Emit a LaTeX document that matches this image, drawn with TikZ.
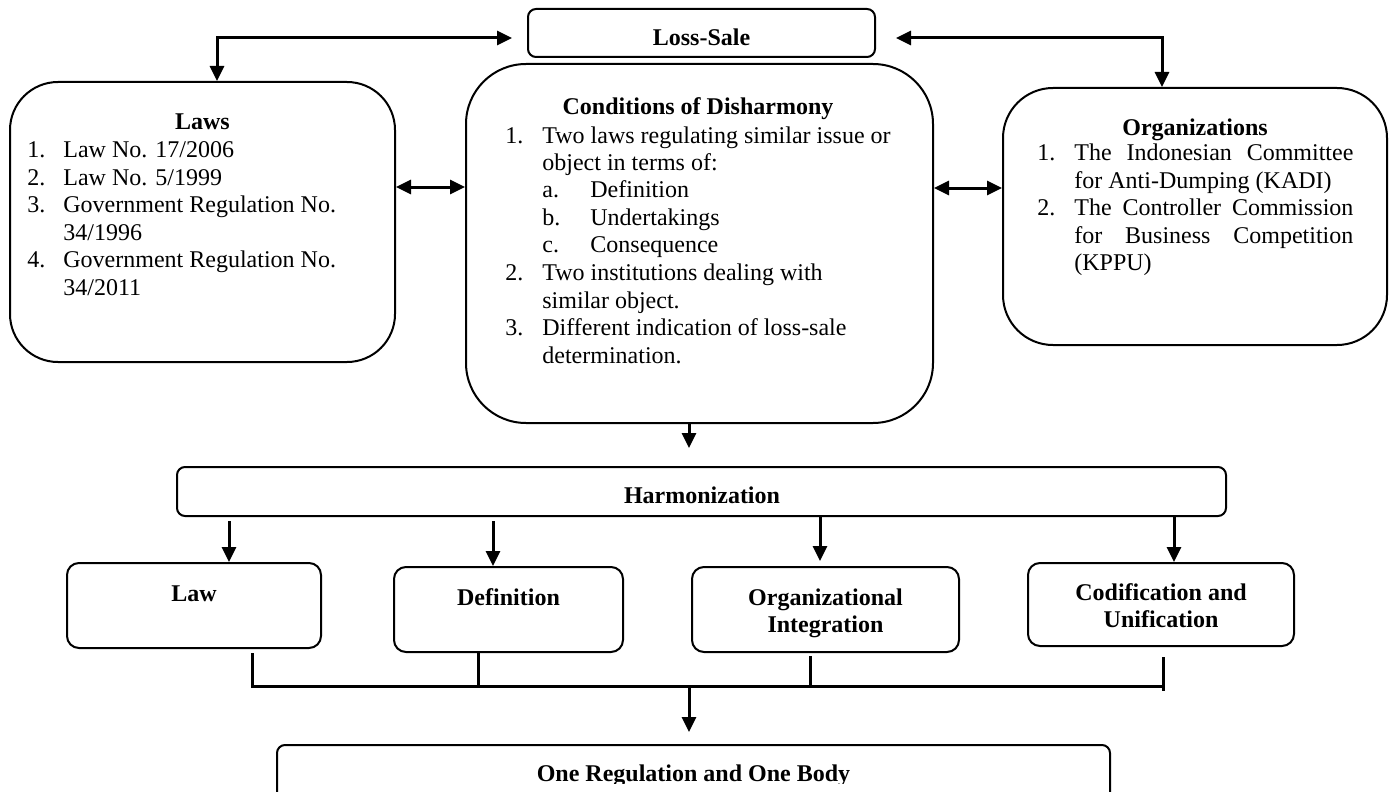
\documentclass[tikz,border=0pt]{standalone}
\usepackage{fontspec}
\setmainfont{Liberation Serif}
\usetikzlibrary{arrows.meta}
\begin{document}
\begin{tikzpicture}[x=0.5pt,y=-0.5pt,
  box/.style={draw, line width=1pt, rounded corners=#1, inner sep=0pt, anchor=center},
  ttl/.style={anchor=base, inner sep=0pt, font=\bfseries\fontsize{12}{13.5}\selectfont},
  lst/.style={anchor=base west, inner sep=0pt, font=\fontsize{12}{13.75}\selectfont},
  arr/.style={line width=1.5pt, -{Triangle[length=7.5pt,width=7pt]}},
  biarr/.style={line width=1.5pt, {Triangle[length=7.5pt,width=7pt]}-{Triangle[length=7.5pt,width=7pt]}},
  bus/.style={line width=1.5pt}]
\useasboundingbox (0,0) rectangle (1392,792);
\clip (0,0) rectangle (1392,792);

% boxes
\node[box=4pt,  minimum width=173.5pt, minimum height=24pt]   (loss) at (701.5,33) {};
\node[box=24pt, minimum width=192.5pt, minimum height=140pt]  (laws) at (202.5,222) {};
\node[box=30pt, minimum width=233.5pt, minimum height=179.5pt] (cond) at (699.5,243.5) {};
\node[box=25pt, minimum width=192pt,   minimum height=128.5pt] (org) at (1195,216.5) {};
\node[box=4pt,  minimum width=524.5pt, minimum height=24.5pt] (harm) at (701.5,491.5) {};
\node[box=6pt,  minimum width=127pt,   minimum height=42.5pt] (lawb) at (194,605.5) {};
\node[box=6pt,  minimum width=114.5pt, minimum height=42.5pt] (defb) at (508.5,609.5) {};
\node[box=6pt,  minimum width=133.5pt, minimum height=42.5pt] (orgb) at (825.5,609.5) {};
\node[box=6pt,  minimum width=133pt,   minimum height=41.5pt] (codb) at (1161,604.5) {};
\node[box=4pt,  minimum width=416.5pt, minimum height=30pt]   (final) at (693.5,775) {};

% texts
\node[ttl] (lossT) at (701.5,46) {Loss-Sale};
\node[ttl] (lawsT) at (202.5,130) {Laws};
\node[lst] (lawsL) at (27,157.5) {\begin{tabular}[t]{@{}l@{}}
\makebox[18pt][l]{1.}Law No. 17/2006\\
\makebox[18pt][l]{2.}Law No. 5/1999\\
\makebox[18pt][l]{3.}Government Regulation No.\\
\hspace*{18pt}34/1996\\
\makebox[18pt][l]{4.}Government Regulation No.\\
\hspace*{18pt}34/2011
\end{tabular}};

\node[ttl] (condT) at (698,115) {Conditions of Disharmony};
\node[lst] (condL) at (505,143) {\begin{tabular}[t]{@{}l@{}}
\makebox[18.5pt][l]{1.}Two laws regulating similar issue or\\
\hspace*{18.5pt}object in terms of:\\
\hspace*{18.5pt}\makebox[24pt][l]{a.}Definition\\
\hspace*{18.5pt}\makebox[24pt][l]{b.}Undertakings\\
\hspace*{18.5pt}\makebox[24pt][l]{c.}Consequence\\
\makebox[18.5pt][l]{2.}Two institutions dealing with\\
\hspace*{18.5pt}similar object.\\
\makebox[18.5pt][l]{3.}Different indication of loss-sale\\
\hspace*{18.5pt}determination.
\end{tabular}};

\node[ttl] (orgT) at (1195,135) {Organizations};
\node[lst] (orgL) at (1037,161) {\begin{tabular}[t]{@{}l@{}}
\makebox[18.5pt][l]{1.}\makebox[139.5pt][s]{The Indonesian Committee}\\
\hspace*{18.5pt}for Anti-Dumping (KADI)\\
\makebox[18.5pt][l]{2.}\makebox[139.5pt][s]{The Controller Commission}\\
\hspace*{18.5pt}\makebox[139.5pt][s]{for Business Competition}\\
\hspace*{18.5pt}(KPPU)
\end{tabular}};

\node[ttl] (harmT) at (702,503) {Harmonization};
\node[ttl] (lawbT) at (194,601) {Law};
\node[ttl] (defbT) at (508.5,605) {Definition};
\node[ttl] (orgbT) at (825.5,605) {\begin{tabular}[t]{@{}c@{}}Organizational\\Integration\end{tabular}};
\node[ttl] (codbT) at (1161,600) {\begin{tabular}[t]{@{}c@{}}Codification and\\Unification\end{tabular}};
\begin{scope}
\clip (0,0) rectangle (1392,783);
\node[ttl] (finalT) at (693.5,781) {One Regulation and One Body};
\end{scope}

% connectors
\draw[biarr, shorten >=7.5pt] (217,0 |- laws.north) |- ([yshift=-2.5pt]loss.west);
\draw[biarr, shorten <=10pt] ([yshift=-2.5pt]loss.east) -| (1162,0 |- org.north);
\draw[biarr] (laws.east |- 0,187) -- (cond.west |- 0,187);
\draw[biarr] (cond.east |- 0,188) -- (org.west |- 0,188);

\coordinate (cdown) at (689,448);
\draw[arr] (689,0 |- cond.south) -- (cdown);

\draw[arr, shorten <=2pt] (229,0 |- harm.south) -- (229,0 |- lawb.north);
\draw[arr, shorten <=2pt] (493,0 |- harm.south) -- (493,0 |- defb.north);
\draw[arr, shorten >=2.5pt] (820,0 |- harm.south) -- (820,0 |- orgb.north);
\draw[arr] (1174,0 |- harm.south) -- (1174,0 |- codb.north);

\coordinate (busR) at (1163,686);
\coordinate (busM) at (689,686);
\draw[bus, shorten <=2pt] (252,0 |- lawb.south) |- (busR);
\draw[bus] (478,0 |- defb.south) -- (478,686);
\draw[bus, shorten <=1.5pt] (810,0 |- orgb.south) -- (810,688);
\draw[bus, shorten <=5pt] (1163,0 |- codb.south) -- (1163,691);
\draw[arr, shorten >=6pt] (busM) -- (689,0 |- final.north);
\end{tikzpicture}
\end{document}
